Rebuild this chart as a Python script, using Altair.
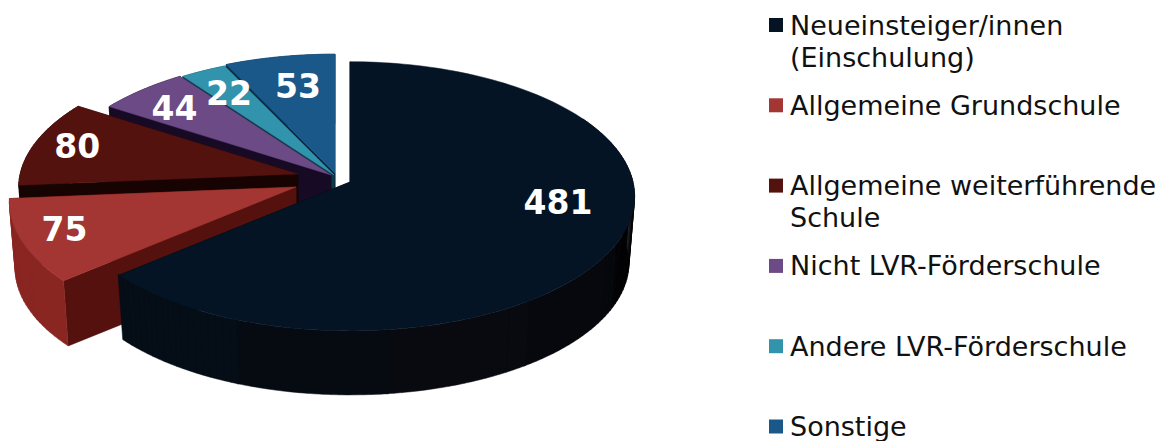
import math
import altair as alt
import pandas as pd

W, H = 1163, 441

# Pupils by previous school
categories = [
    "Neueinsteiger/innen\n(Einschulung)",
    "Allgemeine Grundschule",
    "Allgemeine weiterführende\nSchule",
    "Nicht LVR-Förderschule",
    "Andere LVR-Förderschule",
    "Sonstige",
]
values = [481, 75, 80, 44, 22, 53]

top_colors = ["#041424", "#a33632", "#54120e", "#6b4a85", "#3194ac", "#195888"]
side_colors = ["#050a12", "#54110d", "#170402", "#170a25", "#0c3a46", "#0a2a44"]
rim_colors = ["#050a12", "#8a2622", "#170402", "#170a25", "#0c3a46", "#0a2a44"]
main_rim_shades = ["#030305", "#040406", "#07080d", "#090a10", "#060b12", "#050d16"]

# Pie geometry: where each slice's tip sits once it is pulled out
tips = [(350, 182), (296, 187), (298, 174), (331, 175), (334, 175), (335, 173)]
radius_scale = [0.993, 1, 0.975, 0.985, 0.985, 0.98]
RX, RY, PERSPECTIVE = 285, 134, 0.107
DEPTH, FLOOR_SCALE = 67, 0.98

# Value labels: polar placement inside each slice (degrees clockwise from top, radius share)
label_polar = [(102.6, 0.735), (247.8, 0.847), (283.9, 0.815), (311.6, 0.775), (328.4, 0.751), (348.4, 0.694)]

# Legend layout
LEGEND_X, LEGEND_TOP, LEGEND_STEP = 776, 25, 80.3


def project(tip, theta, frac=1.0, floor=False):
    rad = math.radians(theta)
    depth = -math.cos(rad) * frac
    s = 1 / (1 - PERSPECTIVE * depth)
    dx = RX * frac * math.sin(rad) * s
    dy = RY * depth * s
    if floor:
        return [tip[0] + dx * FLOOR_SCALE, tip[1] + DEPTH + dy * FLOOR_SCALE]
    return [tip[0] + dx, tip[1] + dy]


def closed(points):
    return points + [points[0]]


def feature(geometry_type, coordinates, fill):
    return {
        "type": "Feature",
        "geometry": {"type": geometry_type, "coordinates": coordinates},
        "properties": {"fill": fill},
    }


def face(points, fill):
    return feature("Polygon", [closed(points)], fill)


def arc_angles(a, b):
    n = max(2, int(abs(b - a) / 1.5))
    return [a + (b - a) * i / n for i in range(n + 1)]


def band(tip, a, b, scale, fill):
    # The wall is a run of small quads so its outline follows the rim's silhouette
    angles = arc_angles(a, b)
    quads = []
    for t0, t1 in zip(angles, angles[1:]):
        quads.append(
            [
                closed(
                    [
                        project(tip, t0, scale),
                        project(tip, t1, scale),
                        project(tip, t1, scale, floor=True),
                        project(tip, t0, scale, floor=True),
                    ]
                )
            ]
        )
    return feature("MultiPolygon", quads, fill)


def radial(tip, theta, scale, fill):
    return face(
        [
            [tip[0], tip[1]],
            project(tip, theta, scale),
            project(tip, theta, scale, floor=True),
            [tip[0], tip[1] + DEPTH],
        ],
        fill,
    )


total = sum(values)
starts = [sum(values[:i]) / total * 360 for i in range(len(values))]
ends = [sum(values[: i + 1]) / total * 360 for i in range(len(values))]

faces = []
# Paint from the back of the pie towards the viewer; the big slice goes last
for i in [5, 4, 3, 2, 1, 0]:
    a, b, tip, k = starts[i], ends[i], tips[i], radius_scale[i]
    faces.append(radial(tip, b, k, side_colors[i]))
    faces.append(radial(tip, a, k, side_colors[i]))
    if i == 0:
        # The outer wall of the big slice darkens in steps towards the right
        step = (b - 60) / len(main_rim_shades)
        for j, shade in enumerate(main_rim_shades):
            faces.append(band(tip, 60 + j * step, 60 + (j + 1) * step + 0.4, k, shade))
    else:
        faces.append(band(tip, a, b, k, rim_colors[i]))
    angles = arc_angles(a, b)
    faces.append(face([[tip[0], tip[1]]] + [project(tip, t, k) for t in angles], top_colors[i]))

pie = (
    alt.Chart(alt.Data(values=faces))
    .mark_geoshape(strokeWidth=0.5)
    .encode(
        color=alt.Color("properties.fill:N", scale=None),
        stroke=alt.Stroke("properties.fill:N", scale=None),
    )
    .project(type="identity", scale=1, translate=[0, 0])
)

x_scale = alt.Scale(domain=[0, W], range=[0, W])
y_scale = alt.Scale(domain=[0, H], range=[0, H])
x_enc = lambda f: alt.X(f, scale=x_scale, axis=None)
y_enc = lambda f: alt.Y(f, scale=y_scale, axis=None)

label_rows = []
for tip, (theta, frac), v in zip(tips, label_polar, values):
    px, py = project(tip, theta, frac)
    label_rows.append({"px": px, "py": py, "value": str(v)})

value_labels = (
    alt.Chart(pd.DataFrame(label_rows))
    .mark_text(font="DejaVu Sans", fontWeight="bold", fontSize=33, color="white", align="center", baseline="middle")
    .encode(x=x_enc("px:Q"), y=y_enc("py:Q"), text="value:N")
)

legend_rows = pd.DataFrame(
    {
        "name": categories,
        "swatch": top_colors,
        "lx": [LEGEND_X] * len(categories),
        "tx": [LEGEND_X + 14] * len(categories),
        "ly": [LEGEND_TOP + LEGEND_STEP * i for i in range(len(categories))],
        "ty": [LEGEND_TOP + LEGEND_STEP * i + 9.5 for i in range(len(categories))],
    }
)

swatches = (
    alt.Chart(legend_rows)
    .mark_point(shape="square", filled=True, size=196, opacity=1)
    .encode(x=x_enc("lx:Q"), y=y_enc("ly:Q"), color=alt.Color("swatch:N", scale=None))
)

legend_text = (
    alt.Chart(legend_rows)
    .mark_text(
        font="DejaVu Sans",
        fontSize=27,
        color="#111111",
        align="left",
        baseline="alphabetic",
        lineBreak="\n",
        lineHeight=32,
    )
    .encode(x=x_enc("tx:Q"), y=y_enc("ty:Q"), text="name:N")
)

chart = (
    alt.layer(pie, value_labels, swatches, legend_text)
    .properties(width=W, height=H, padding=0, background="white")
    .configure_view(stroke=None)
)

chart.save("out.html", embed_options={"renderer": "svg", "actions": False})
